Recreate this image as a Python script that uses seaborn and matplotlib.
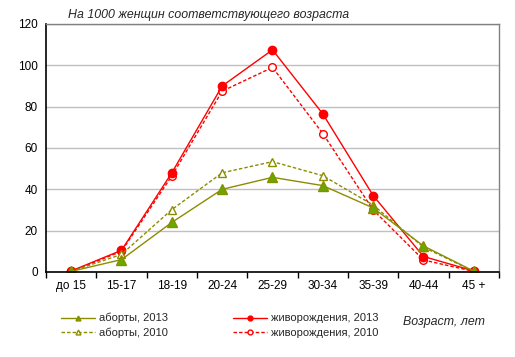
import matplotlib
matplotlib.use("Agg")
import matplotlib.pyplot as plt
import seaborn as sns
import pandas as pd
import numpy as np
from matplotlib.lines import Line2D

categories = ["до 15", "15-17", "18-19", "20-24", "25-29", "30-34", "35-39", "40-44", "45 +"]
abortions_2013 = [0.3, 6, 24, 40, 45.8, 41.8, 31, 12.6, 0.4]
abortions_2010 = [0.3, 8.5, 30.2, 48, 53.4, 46.6, 32.4, 12, 0.3]
births_2013 = [0.5, 10.5, 48, 90, 107.5, 76.5, 37, 7.5, 0.5]
births_2010 = [0.3, 10, 46.5, 87.5, 99, 67, 30, 5.8, 0.3]

series_names = ["аборты, 2013", "аборты, 2010", "живорождения, 2013", "живорождения, 2010"]
series_vals = [abortions_2013, abortions_2010, births_2013, births_2010]

rows = []
for name, vals in zip(series_names, series_vals):
    for i, v in enumerate(vals):
        rows.append({"pos": i, "value": v, "series": name})
df = pd.DataFrame(rows)

sns.set_theme(style="white")
plt.rcParams["font.family"] = ["Liberation Sans", "DejaVu Sans"]

fig = plt.figure(figsize=(5.15, 3.57), dpi=100)
ax = fig.add_axes([46/515, 1 - 272/357, 453/515, 248/357])

olive = "#8c8c00"
green_fill = "#66aa00"
red = "#ff0000"
styles = {
    "аборты, 2013": dict(color=olive, ls="-", marker="^", mfc=green_fill, mec=olive, ms=6.5),
    "аборты, 2010": dict(color=olive, ls=(0, (2.5, 1.5)), marker="^", mfc="white", mec=olive, ms=5.5),
    "живорождения, 2013": dict(color=red, ls="-", marker="o", mfc=red, mec=red, ms=6),
    "живорождения, 2010": dict(color=red, ls=(0, (2.5, 1.5)), marker="o", mfc="white", mec=red, ms=5.5),
}

for name in ["живорождения, 2010", "живорождения, 2013", "аборты, 2010", "аборты, 2013"]:
    st = styles[name]
    sub = df[df["series"] == name]
    sns.lineplot(data=sub, x="pos", y="value", ax=ax, color=st["color"], linestyle=st["ls"],
                 marker=st["marker"], markerfacecolor=st["mfc"], markeredgecolor=st["mec"],
                 markersize=st["ms"], markeredgewidth=1, linewidth=1, legend=False)

ax.set_xlim(-0.5, 8.5)
ax.set_ylim(0, 120)
ax.set_yticks(range(0, 121, 20))
ax.set_xticks(range(9))
ax.set_xticklabels(categories)
ax.set_xticks(np.arange(-0.5, 9, 1), minor=True)
ax.tick_params(axis="x", which="major", length=0, labelsize=8.5, pad=6, colors="black")
ax.tick_params(axis="x", which="minor", length=4, width=1, direction="out", bottom=True, color="black")
ax.tick_params(axis="y", length=0, labelsize=8.5, pad=6, colors="black")
ax.set_xlabel("")
ax.set_ylabel("")
ax.yaxis.grid(True, color="#c0c0c0", linewidth=1)
ax.set_axisbelow(True)
for s in ["top", "right"]:
    ax.spines[s].set_color("#808080")
    ax.spines[s].set_linewidth(1)
for s in ["left", "bottom"]:
    ax.spines[s].set_color("black")
    ax.spines[s].set_linewidth(1.2)

fig.text(68/515, 1 - 15/357, "На 1000 женщин соответствующего возраста", fontsize=8.9,
         style="italic", va="center", ha="left")
fig.text(403/515, 1 - 322/357, "Возраст, лет", fontsize=8.9, style="italic", va="center", ha="left")

handles = []
for name in series_names:
    st = styles[name]
    handles.append(Line2D([0], [0], color=st["color"], linestyle=st["ls"], linewidth=1,
                          marker=st["marker"], markerfacecolor=st["mfc"], markeredgecolor=st["mec"],
                          markersize=3.5))
fig.legend(handles, series_names, ncol=2, loc="center left", bbox_to_anchor=(61/515, 1 - 325.5/357),
           frameon=False, fontsize=8, handlelength=3.1, columnspacing=5.8, labelspacing=0.38,
           handletextpad=0.36, borderpad=0, borderaxespad=0)

fig.savefig("out.png", dpi=100)
